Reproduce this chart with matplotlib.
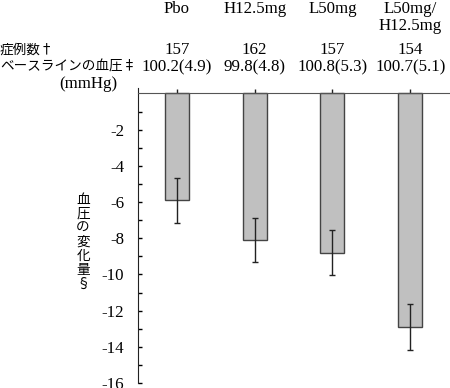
import matplotlib.pyplot as plt
import matplotlib.transforms as mtransforms

# data
groups = ['Pbo', 'H12.5mg', 'L50mg', 'L50mg/\nH12.5mg']
n_cases = ['157', '162', '157', '154']
baseline = ['100.2(4.9)', '99.8(4.8)', '100.8(5.3)', '100.7(5.1)']
change = [-5.9, -8.1, -8.8, -12.9]
err = [1.25, 1.2, 1.25, 1.25]
yticks = [-2, -4, -6, -8, -10, -12, -14, -16]

serif = ['Liberation Serif', 'Noto Sans CJK JP']
jp = ['Noto Sans CJK JP', 'DejaVu Sans']
fs = 9.8
fs_serif = 12.2

fig = plt.figure(figsize=(4.5, 3.88), dpi=100)
ax = fig.add_axes([0.3067, 0.0129, 0.6913, 0.7603])

x = list(range(len(groups)))
ax.bar(x, change, width=0.31, color='#c0c0c0', edgecolor='#444444', linewidth=1, zorder=2)
ax.errorbar(x, change, yerr=err, fmt='none', ecolor='#222222', elinewidth=1,
            capsize=2, capthick=1, zorder=3)

ax.set_xlim(-0.5, 3.5)
ax.set_ylim(-16, 0.3)

for s in ['top', 'right']:
    ax.spines[s].set_visible(False)
ax.spines['bottom'].set_position(('data', 0))
ax.spines['bottom'].set_color('#555555')
ax.spines['left'].set_color('#222222')
ax.spines['bottom'].set_zorder(4)

ax.set_xticks(x)
ax.set_xticklabels([])
ax.tick_params(axis='x', direction='in', length=3, width=1, color='#222222')

ax.set_yticks(yticks)
ax.set_yticks(range(-15, 0, 2), minor=True)
ax.set_yticklabels([str(v) for v in yticks], fontfamily=serif, fontsize=fs_serif)
ax.tick_params(axis='y', which='both', direction='in', length=3, width=1, pad=10)

# stacked vertical y label
fig.text(83 / 450, 1 - 242 / 388, '\n'.join('血圧の変化量§'), family=jp, fontsize=fs,
         ha='center', va='center', linespacing=1.0)

# header rows above the plot
trans = mtransforms.blended_transform_factory(ax.transData, fig.transFigure)
for i in x:
    ax.text(i, 1 - 1 / 388, groups[i], transform=trans, ha='center', va='top',
            family=serif, fontsize=fs_serif, linespacing=1.1)
    ax.text(i, 1 - 50 / 388, n_cases[i], transform=trans, ha='center', va='center',
            family=serif, fontsize=fs_serif)
    ax.text(i, 1 - 67 / 388, baseline[i], transform=trans, ha='center', va='center',
            family=serif, fontsize=fs_serif)

fig.text(0, 1 - 50 / 388, '症例数†', family=jp, fontsize=fs, ha='left', va='center')
fig.text(0, 1 - 67 / 388, 'ベースラインの血圧‡', family=jp, fontsize=fs, ha='left', va='center')
fig.text(88 / 450, 1 - 84 / 388, '(mmHg)', family=serif, fontsize=fs_serif, ha='center', va='center')

fig.savefig('out.png', dpi=100)
